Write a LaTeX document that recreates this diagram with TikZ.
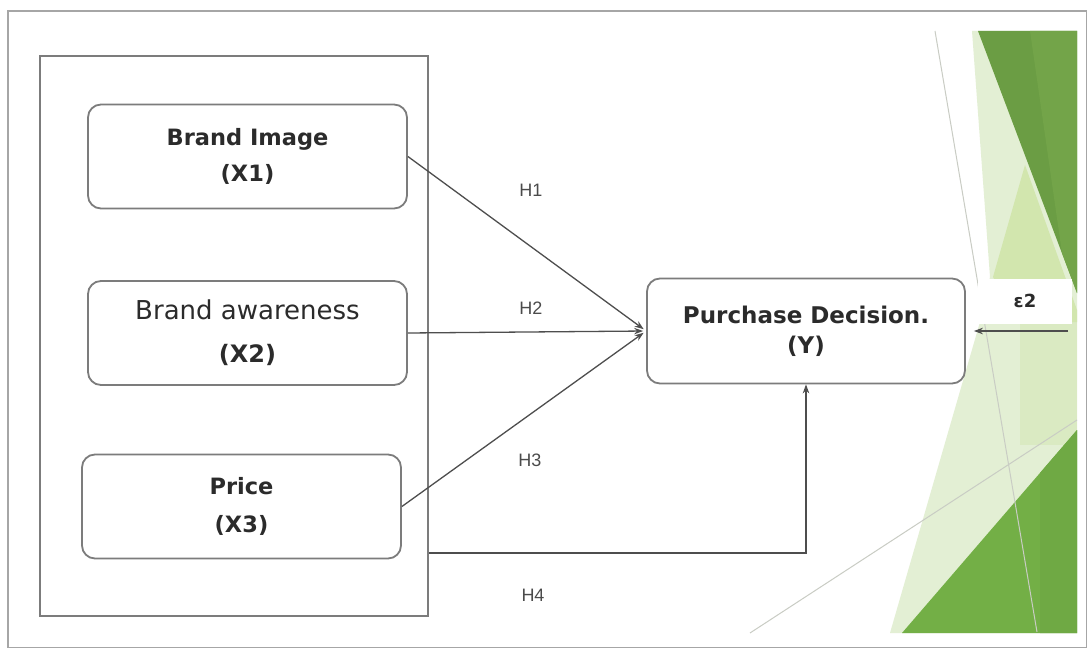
\documentclass[tikz,border=0pt]{standalone}
\usepackage{fontspec}
\setmainfont{DejaVu Sans}
\newfontfamily\hfont{Liberation Sans}
\usetikzlibrary{arrows.meta}

\definecolor{ink}{HTML}{2B2B2B}
\definecolor{boxgrey}{HTML}{7C7C7C}
\definecolor{linegrey}{HTML}{4E4E4E}
\definecolor{framegrey}{HTML}{A6A6A6}
\definecolor{facetpale}{HTML}{E3EFD4}
\definecolor{facetlight}{HTML}{D2E6AE}
\definecolor{facetsoft}{HTML}{DAEAC2}
\definecolor{facetdark}{HTML}{6B9D44}
\definecolor{facetdarkB}{HTML}{73A449}
\definecolor{facetmid}{HTML}{73AF46}
\definecolor{facetmidB}{HTML}{6FA944}
\definecolor{facetline}{HTML}{C9CCC4}

\begin{document}
\begin{tikzpicture}[x=1pt,y=-1pt,
  factor/.style={draw=boxgrey, line width=1.8pt, rounded corners=13pt,
    minimum width=319pt, minimum height=104pt, inner sep=0pt,
    align=center, text=ink},
  link/.style={draw=linegrey, line width=1.3pt,
    -{Stealth[length=9pt,width=6.5pt]}},
  hyp/.style={font=\hfont\fontsize{18}{18}\selectfont, text=ink!85},
  facetrule/.style={draw=facetline, line width=1pt}]

\useasboundingbox (0,0) rectangle (1088,650);
\fill[white] (0,0) rectangle (1088,650);

% outer slide frame
\draw[framegrey, line width=1.5pt] (8,11) rectangle (1086.5,647.5);

% facet decoration on the right edge
\fill[facetpale] (972,31) -- (1077,31) -- (1077,633) -- (890,633)
  -- (980,322) -- (990,277) -- cycle;
\fill[facetsoft] (1020,322) -- (1077,322) -- (1077,445) -- (1020,445) -- cycle;
\fill[facetlight] (1025,165) -- (1077,310) -- (1077,322) -- (1016,322)
  -- (993,277) -- cycle;
\fill[facetdark] (978,31) -- (1077,31) -- (1077,293) -- cycle;
\fill[facetdarkB] (1030,31) -- (1077,31) -- (1077,293) -- (1062,253) -- cycle;
\fill[facetmid] (902,633) -- (1077,430) -- (1077,633) -- cycle;
\fill[facetmidB] (1040,473) -- (1077,430) -- (1077,633) -- (1040,633) -- cycle;
\draw[facetrule] (935,31) -- (1037,632);
\draw[facetrule] (750,633) -- (1077,420);

% grouping frame around the independent variables
\node[draw=boxgrey, line width=2pt, minimum width=388pt, minimum height=560pt,
  inner sep=0pt] (grp) at (234,336) {};

% variables
\node[factor, font=\bfseries\fontsize{22.5}{26}\selectfont] (x1) at (247.5,156.5)
  {Brand Image\\[10pt](X1)};
\node[factor, font=\fontsize{26}{30}\selectfont] (x2) at (247.5,333)
  {Brand awareness\\[13pt]{\bfseries\fontsize{24}{28}\selectfont (X2)}};
\node[factor, font=\bfseries\fontsize{22.5}{26}\selectfont] (x3) at (241.5,506.5)
  {Price\\[12pt](X3)};
\node[factor, minimum width=318pt, minimum height=105pt,
  font=\bfseries\fontsize{23}{26}\selectfont] (y) at (806,331)
  {Purchase Decision.\\[4pt](Y)};

% error term
\node[fill=white, inner sep=0pt, minimum width=94pt, minimum height=45pt,
  font=\bfseries\fontsize{18}{18}\selectfont, text=ink] (eps) at (1025,301)
  {ε2};
\coordinate (epsin) at (1068,331);
\draw[link, shorten >=8pt] (epsin) -- (y.east);

% hypothesised paths
\draw[link, shorten >=3pt] (x1.east) -- (y.west);
\draw[link, shorten >=3pt] (x2.east) -- (y.west);
\draw[link, shorten >=3pt] (x3.east) -- (y.west);
\coordinate (h4start) at (grp.east |- 0,553);
\draw[link] (h4start) -| (y.south);

% path labels
\node[hyp] (h1) at (531,190) {H1};
\node[hyp] (h2) at (531,308) {H2};
\node[hyp] (h3) at (530,460) {H3};
\node[hyp] (h4) at (533,595) {H4};
\end{tikzpicture}
\end{document}
